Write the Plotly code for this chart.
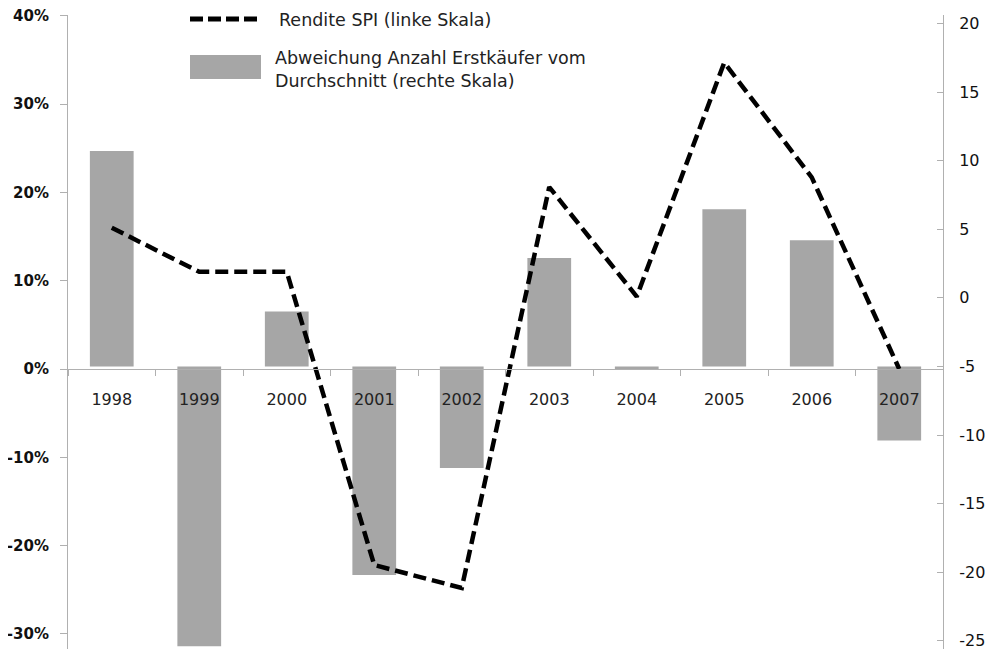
import plotly.graph_objects as go

years = ["1998", "1999", "2000", "2001", "2002", "2003", "2004", "2005", "2006", "2007"]
# Rendite SPI in % (linke Skala)
rendite = [16.0, 11.0, 11.0, -22.2, -24.8, 20.6, 8.2, 34.7, 21.7, 0.0]
# Abweichung Anzahl Erstkaeufer vom Durchschnitt (rechte Skala)
abweichung = [10.7, -25.4, -1.0, -20.2, -12.4, 2.9, -5.2, 6.45, 4.2, -10.4]
bar_base = -5  # bars start where the category axis crosses the right scale

left_ticks = [-30, -20, -10, 0, 10, 20, 30, 40]
left_text = ["-30%", "-20%", "-10%", "0%", "10%", "20%", "30%", "40%"]
right_ticks = [-25, -20, -15, -10, -5, 0, 5, 10, 15, 20]
right_text = ["-25", "-20", "-15", "-10", "-5", "0", "5", "10", "15", "20"]

legend_line = "Rendite SPI (linke Skala)"
legend_bar = "Abweichung Anzahl Erstkäufer vom<br>Durchschnitt (rechte Skala)"

grey_bar = "#a6a6a6"
axis_col = "#b0b0b0"
font = "DejaVu Sans"

# plot area in page pixels: x 68..943, y 15..649 (page has an 8px body margin)
OFF = 8
L, R, T, B = 68, 943, 15, 649
def px_x(x):
    return (x - L) / (R - L)
def px_y(y):
    return (B - y) / (B - T)

fig = go.Figure()
# bars on the primary axis (drawn below), right-hand scale
fig.add_trace(go.Bar(
    x=years, y=[v - bar_base for v in abweichung], base=bar_base,
    marker=dict(color=grey_bar, line=dict(width=0)),
    yaxis="y", name=legend_bar, showlegend=False))
# line on the overlaying axis (drawn on top), left-hand scale
fig.add_trace(go.Scatter(
    x=years, y=rendite, mode="lines",
    line=dict(color="black", width=4.5, dash="13px,6px"),
    yaxis="y2", name=legend_line, showlegend=False))

fig.update_layout(
    width=994 - OFF, height=651 - OFF,
    margin=dict(l=L - OFF, r=994 - R, t=T - OFF, b=651 - B),
    paper_bgcolor="white", plot_bgcolor="white",
    bargap=0.5,
    font=dict(family=font, color="#222"),
    xaxis=dict(type="category", anchor="free", position=px_y(369), automargin=False,
               showline=True, linecolor=axis_col, linewidth=1,
               ticks="outside", tickson="boundaries", ticklen=6, tickcolor=axis_col,
               ticklabelstandoff=16,
               tickfont=dict(size=16, color="#222"), showgrid=False, zeroline=False),
    yaxis=dict(range=[-25.6, 20.62], tickvals=right_ticks, ticktext=right_text,
               side="right", automargin=False, ticklabeloverflow="allow",
               showline=True, linecolor=axis_col, linewidth=1,
               ticks="inside", ticklen=6, tickcolor=axis_col,
               ticklabelstandoff=12,
               tickfont=dict(size=16, color="#111"),
               showgrid=False, zeroline=False),
    yaxis2=dict(range=[-31.71, 40.09], tickvals=left_ticks, ticktext=left_text,
                overlaying="y", side="left", automargin=False, ticklabeloverflow="allow",
                showline=True, linecolor=axis_col, linewidth=1,
                ticks="outside", ticklen=7, tickcolor=axis_col,
                ticklabelstandoff=8,
                tickfont=dict(size=15, color="#111", weight="bold"),
                showgrid=False, zeroline=False),
)

# legend drawn by hand to mimic the wide keys of the original
fig.add_shape(type="line", xref="paper", yref="paper",
              x0=px_x(190), x1=px_x(262), y0=px_y(19), y1=px_y(19),
              line=dict(color="black", width=5, dash="13px,5px"))
fig.add_shape(type="rect", xref="paper", yref="paper",
              x0=px_x(190), x1=px_x(261), y0=px_y(79), y1=px_y(55),
              line=dict(width=0), fillcolor=grey_bar)
fig.add_annotation(text=legend_line, xref="paper", yref="paper",
                   x=px_x(277), y=px_y(20), xanchor="left", yanchor="middle",
                   showarrow=False, align="left", font=dict(size=17.5, color="#222"))
fig.add_annotation(text=legend_bar, xref="paper", yref="paper",
                   x=px_x(273), y=px_y(69.5), xanchor="left", yanchor="middle",
                   showarrow=False, align="left", font=dict(size=17.5, color="#222"))

fig.write_html("out.html")
